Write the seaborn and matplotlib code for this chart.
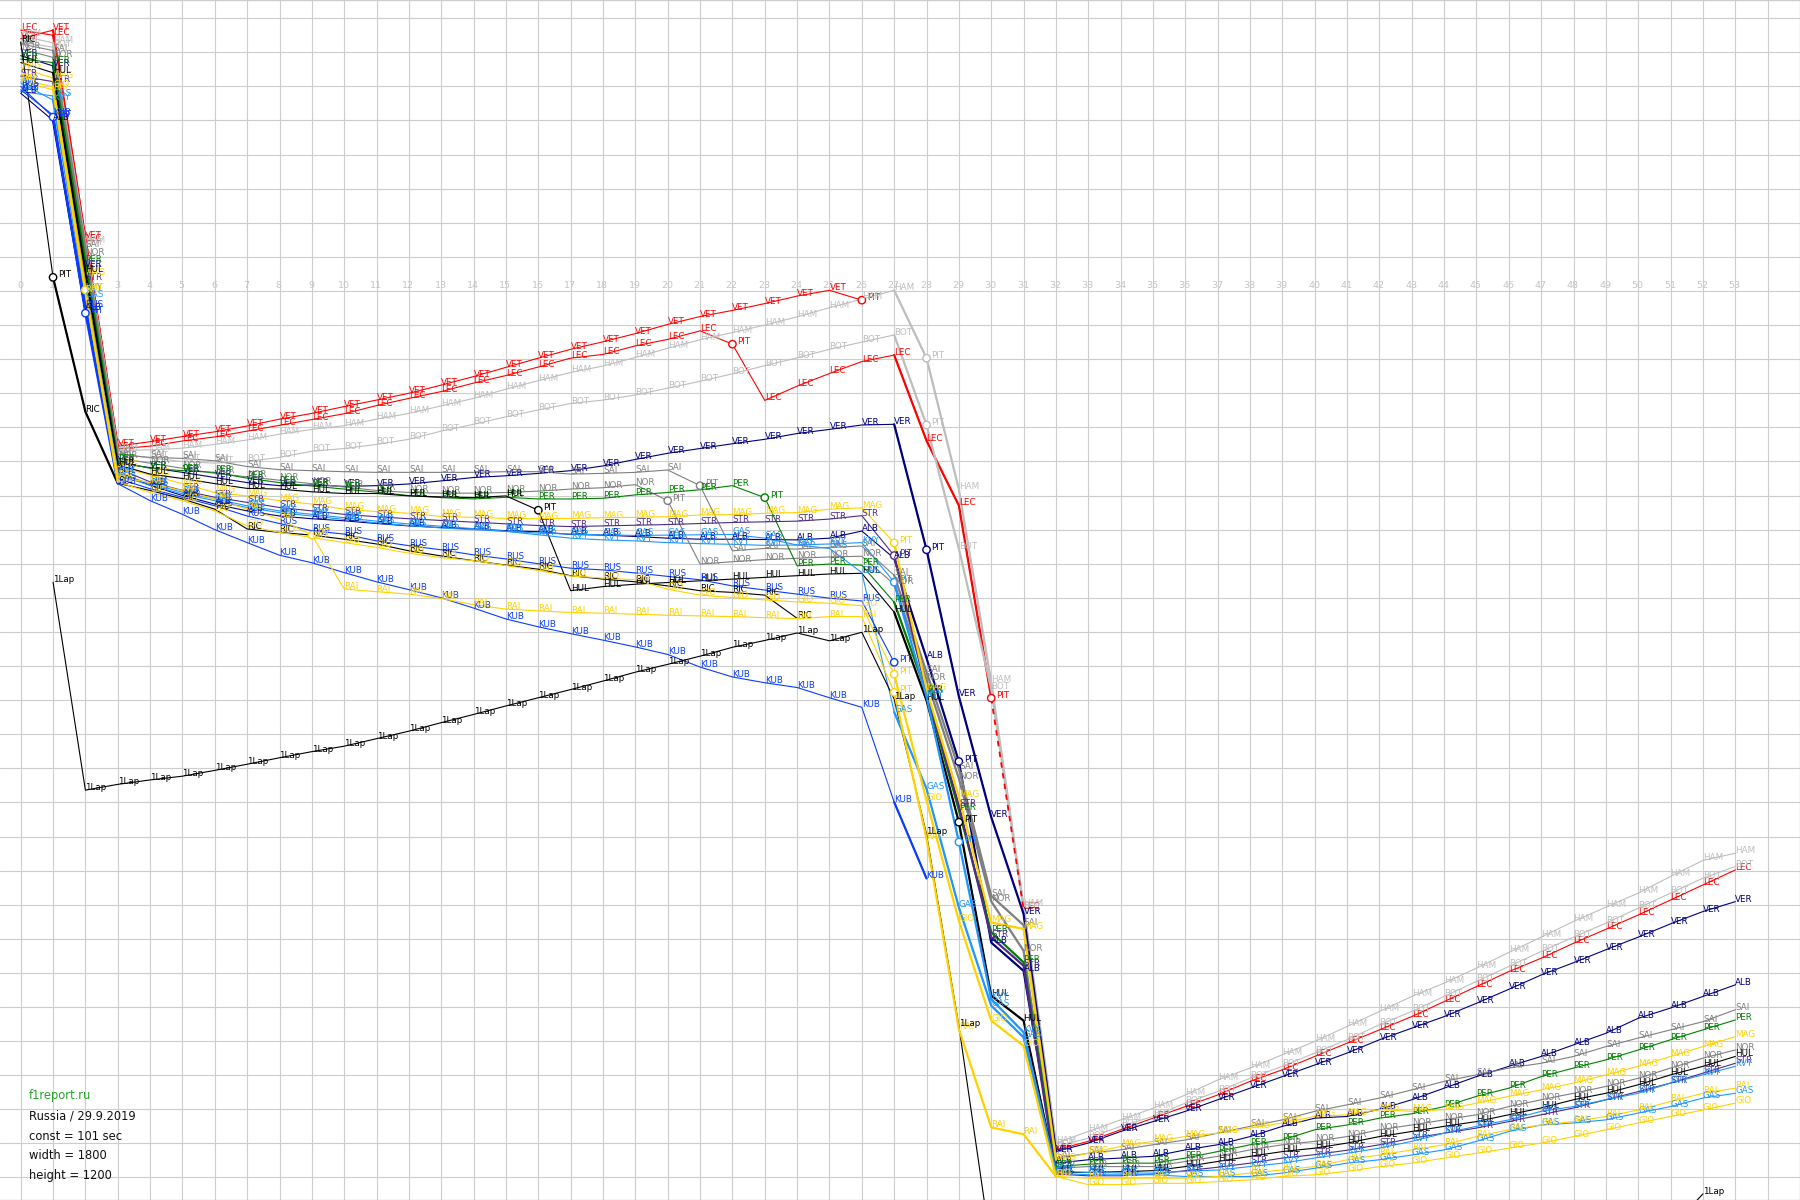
import matplotlib
matplotlib.use("Agg")
import matplotlib.pyplot as plt
import seaborn as sns
import pandas as pd
import numpy as np

# gap to a constant 101 s lap, in seconds (positive = behind), index = lap
VET = [-74.0, -76.5, -15.4, 45.5, 44.2, 42.7, 41.3, 39.6, 37.6, 35.9, 33.9, 32.0, 30.0, 27.6, 25.1, 22.4,
       19.7, 17.1, 14.9, 12.5, 9.8, 7.5, 5.7, 3.7, 1.5, -0.2, 2.7]
LEC = [-76.5, -75.0, -14.8, 46.3, 45.5, 44.0, 42.8, 41.1, 39.4, 37.7, 36.0, 33.6, 31.5, 29.5, 27.0, 24.8,
       22.3, 19.7, 18.6, 16.1, 14.2, 11.7, 15.6, 32.1, 27.9, 24.2, 20.7, 18.8,
       43.9, 62.9, 119.4, 181.3, 251.9,
       249.4, 246.0, 242.6, 239.2, 235.8, 231.8, 228.4, 224.5, 220.6, 216.7, 212.8, 208.4, 204.0, 199.6,
       195.7, 191.3, 187.2, 183.0, 178.6, 174.2, 169.8]
HAM = [-74.8, -72.8, -14.0, 46.8, 46.6, 46.1, 45.0, 43.7, 42.0, 40.6, 39.5, 37.6, 35.9, 33.7, 31.5, 28.8,
       26.3, 23.9, 22.0, 19.5, 16.8, 14.3, 12.2, 10.0, 7.6, 4.9, 2.4, -0.2,
       19.7, 58.2, 114.7, 180.5, 249.9,
       246.5, 243.1, 239.7, 235.8, 231.4, 227.9, 224.0, 220.1, 215.7, 211.3, 206.9, 203.0, 198.6, 194.0,
       189.5, 184.9, 180.7, 176.6, 171.7, 167.0, 164.9]
BOT = [-73.0, -71.5, -13.5, 47.5, 49.0, 50.0, 50.5, 50.0, 48.8, 47.0, 46.2, 45.0, 43.5, 41.1, 39.1, 36.9,
       34.9, 33.0, 32.0, 30.5, 28.5, 26.5, 24.3, 21.9, 19.6, 17.1, 15.0, 12.9,
       39.3, 75.6, 116.7, 181.0, 250.9,
       248.5, 245.0, 242.1, 238.2, 234.8, 230.9, 227.4, 223.5, 219.6, 215.2, 211.3, 206.9, 202.5, 198.1,
       193.7, 189.5, 185.4, 181.0, 176.6, 172.2, 168.8]
VER = [-69.0, -66.0, -7.1, 50.5, 51.8, 53.2, 54.7, 56.2, 57.1, 56.9, 57.3, 57.1, 56.6, 55.7, 54.7, 54.2,
       53.5, 52.7, 51.3, 49.4, 47.6, 46.2, 44.8, 43.5, 41.8, 40.6, 39.3, 39.1,
       75.9, 118.9, 154.3, 182.7, 252.4,
       249.9, 246.5, 243.6, 240.6, 237.2, 233.8, 230.4, 227.0, 223.5, 219.6, 216.2, 212.8, 208.9, 204.8,
       200.6, 197.0, 193.2, 189.5, 185.6, 182.0, 179.1]
ALB = [-58.0, -50.0, 5.6, 53.0, 57.0, 60.0, 62.5, 64.5, 66.0, 66.8, 67.4, 68.2, 68.9, 69.4, 69.8, 70.3,
       70.6, 71.4, 71.6, 72.0, 72.5, 72.8, 72.8, 72.9, 73.0, 72.5, 70.4, 78.4,
       107.7, 138.0, 191.1, 199.4, 255.8,
       254.8, 254.3, 253.8, 251.9, 250.4, 248.0, 245.0, 242.6, 242.1, 240.0, 237.2, 233.8, 230.4, 227.4,
       224.5, 221.1, 217.7, 213.3, 210.3, 206.9, 203.5]
SAI = [-72.5, -70.5, -13.0, 48.0, 48.8, 49.1, 49.8, 51.5, 52.4, 52.7, 53.0, 53.2, 53.2, 53.2, 53.2, 53.0,
       53.0, 53.7, 53.5, 53.2, 52.5, 57.1, 76.2, 75.5, 75.7, 75.2, 74.8, 83.4,
       111.8, 140.1, 177.4, 186.0, 254.3,
       252.9, 251.9, 250.4, 249.0, 247.0, 245.0, 243.1, 240.6, 238.7, 236.7, 234.3, 231.8, 229.9, 227.9,
       226.5, 224.5, 221.6, 219.1, 216.7, 214.3, 210.8]
NOR = [-71.0, -68.5, -10.6, 49.0, 50.5, 52.0, 53.5, 54.5, 55.5, 56.5, 57.5, 58.5, 59.1, 59.3, 59.3, 59.1,
       58.7, 58.1, 57.7, 56.8, 61.5, 80.1, 79.4, 78.8, 78.4, 78.0, 77.8, 86.0,
       114.0, 143.0, 179.0, 193.5, 257.3,
       256.8, 256.8, 256.8, 255.3, 253.8, 251.9, 250.4, 249.4, 248.0, 246.0, 244.6, 243.1, 241.6, 239.2,
       237.2, 235.3, 233.3, 230.9, 227.9, 225.0, 222.6]
PER = [-68.0, -67.0, -8.6, 50.0, 52.0, 52.7, 53.2, 54.9, 56.2, 57.2, 58.1, 59.0, 60.0, 60.6, 61.0, 60.5,
       61.0, 61.0, 60.8, 59.8, 59.1, 58.3, 57.1, 60.6, 80.6, 80.1, 80.4, 91.3,
       118.0, 152.3, 188.1, 196.9, 256.8,
       256.1, 255.8, 255.8, 254.3, 252.4, 250.4, 249.0, 246.0, 244.6, 242.6, 241.3, 239.2, 236.2, 233.8,
       230.4, 227.9, 225.5, 222.6, 219.6, 216.7, 213.8]
STR = [-63.0, -61.4, -3.2, 52.0, 56.0, 58.5, 60.5, 62.0, 63.5, 64.5, 65.5, 66.2, 66.8, 67.3, 67.8, 68.3,
       68.8, 69.1, 68.9, 68.7, 68.5, 68.2, 67.9, 67.7, 67.5, 66.9, 65.9, 77.6,
       117.5, 151.0, 189.6, 197.9, 259.0,
       259.5, 259.5, 259.0, 258.0, 257.0, 255.8, 254.3, 253.3, 252.0, 250.4, 248.5, 247.0, 245.5, 243.6,
       241.6, 239.6, 237.2, 234.8, 232.3, 229.4, 226.5]
MAG = [-65.5, -62.4, -4.7, 51.5, 54.0, 56.5, 59.1, 60.1, 61.5, 62.5, 64.0, 64.7, 65.2, 66.1, 66.4, 66.7,
       66.8, 66.7, 66.5, 66.4, 66.2, 65.7, 65.6, 65.2, 65.0, 64.0, 63.6, 73.9,
       116.9, 148.4, 185.2, 187.1, 254.8,
       252.9, 250.9, 249.4, 248.0, 247.0, 245.5, 244.0, 242.1, 241.6, 240.1, 240.6, 240.1, 238.2, 236.2,
       234.3, 232.3, 229.9, 227.4, 224.5, 221.6, 218.7]
HUL = [-67.0, -64.0, -5.7, 51.0, 53.7, 55.0, 56.5, 57.9, 58.1, 58.9, 59.4, 59.4, 60.1, 60.4, 60.6, 60.1,
       64.3, 87.9, 86.7, 86.0, 85.5, 85.0, 84.5, 84.0, 83.5, 83.0, 82.8, 94.2,
       120.1, 155.8, 206.7, 214.0, 258.5,
       258.5, 258.3, 258.0, 256.8, 255.3, 253.8, 252.4, 251.4, 249.9, 248.0, 246.5, 245.0, 243.6, 241.6,
       239.6, 237.2, 235.3, 232.8, 229.9, 227.4, 224.5]
RIC = [-73.0, -4.0, 35.4, 56.4, 58.5, 61.0, 64.0, 69.8, 70.8, 71.6, 72.8, 74.2, 76.2, 77.7, 79.1, 80.4,
       81.6, 83.5, 84.5, 85.3, 86.5, 87.9, 88.4, 89.2, 96.0]
KVY = [-61.0, -56.0, -0.3, 53.5, 56.5, 59.0, 61.0, 63.0, 64.5, 65.5, 66.5, 67.5, 68.3, 69.0, 69.7, 70.5,
       71.5, 72.5, 73.0, 73.3, 73.8, 74.1, 74.3, 74.6, 74.5, 74.2, 73.8, 85.4,
       119.0, 161.6, 207.7, 217.4, 258.2,
       258.5, 258.7, 258.7, 258.2, 257.8, 256.8, 255.8, 254.3, 252.9, 251.4, 249.4, 247.0, 245.0, 243.1,
       240.6, 239.2, 237.2, 235.3, 232.3, 229.9, 227.4]
GAS = [-58.5, -57.2, 1.7, 54.0, 57.0, 59.5, 61.5, 63.5, 65.0, 66.0, 67.0, 68.0, 68.8, 69.5, 70.0, 70.5,
       71.0, 71.3, 71.5, 71.7, 71.6, 71.5, 71.4, 72.5, 74.5, 75.5, 82.6, 123.5,
       146.0, 180.8, 209.6, 218.9, 258.7,
       259.2, 259.2, 259.2, 259.7, 259.7, 259.7, 258.7, 257.3, 255.8, 254.8, 253.4, 251.9, 249.4, 246.5,
       244.6, 244.0, 243.1, 241.1, 239.2, 236.7, 235.3]
RUS = [-60.0, -51.0, 4.6, 55.0, 58.0, 60.5, 63.0, 66.0, 68.2, 70.3, 71.3, 73.3, 74.7, 75.9, 77.4, 78.6,
       80.0, 81.3, 81.8, 82.7, 83.7, 84.7, 86.5, 87.7, 88.9, 90.1, 90.9, 108.9]
KUB = [-59.0, -51.6, 6.5, 56.5, 61.5, 65.5, 70.0, 73.8, 77.5, 79.7, 82.6, 85.3, 87.6, 90.0, 93.0, 96.2,
       98.5, 100.5, 102.4, 104.4, 106.6, 110.3, 113.2, 114.9, 116.3, 119.3, 122.1, 149.9, 172.3]
GIO = [-62.0, -59.9, -0.3, 56.0, 59.1, 61.5, 64.5, 68.9, 70.8, 72.3, 73.8, 75.2, 76.9, 78.2, 79.1, 80.5,
       82.0, 83.6, 84.2, 84.7, 87.5, 89.2, 89.9, 90.6, 91.2, 91.6, 92.3, 112.4,
       149.4, 184.7, 214.0, 221.4, 259.7,
       262.1, 262.1, 261.7, 261.7, 261.2, 260.7, 259.7, 259.2, 258.2, 256.8, 255.8, 254.3, 252.9, 251.4,
       249.9, 248.0, 246.0, 244.0, 242.1, 240.2, 238.2]
RAI = [-61.5, -59.0, 0.2, 54.5, 56.2, 58.6, 61.0, 64.0, 66.9, 71.6, 87.4, 88.2, 88.9, 90.2, 92.0, 93.3,
       93.8, 94.3, 94.5, 94.8, 95.1, 95.3, 95.5, 95.8, 96.1, 95.5, 95.5, 117.7,
       160.6, 216.5, 245.3, 247.3, 259.7,
       260.2, 260.2, 260.2, 260.2, 259.7, 258.7, 257.8, 256.8, 254.8, 253.4, 251.9, 250.4, 248.0, 246.0,
       244.6, 243.6, 242.1, 240.2, 237.7, 235.3, 233.8]
# car running one lap down, starts at lap 1
LAPPED = [85.4, 146.4, 144.7, 143.4, 142.3, 140.6, 138.8, 136.9, 135.1, 133.5, 131.3, 129.1, 126.6, 124.2,
          121.7, 119.3, 116.9, 114.4, 111.8, 109.5, 107.1, 104.5, 102.5, 100.3, 102.6, 100.1, 119.7,
          159.3, 215.5, 281.0]
LAPPED_END = [275.0, 264.8]

SERIES = {"LEC": LEC, "VET": VET, "HAM": HAM, "BOT": BOT, "VER": VER, "ALB": ALB, "SAI": SAI,
          "NOR": NOR, "PER": PER, "STR": STR, "MAG": MAG, "HUL": HUL, "RIC": RIC, "KVY": KVY,
          "GAS": GAS, "RUS": RUS, "KUB": KUB, "GIO": GIO, "RAI": RAI,
          "1Lap": LAPPED, "1Lap_end": LAPPED_END}
START = {"1Lap": 1, "1Lap_end": 51}

PITS = {"VET": [26], "LEC": [22, 30], "HAM": [28], "BOT": [28], "VER": [28], "ALB": [29],
        "SAI": [21], "NOR": [20], "PER": [23], "STR": [27], "MAG": [27], "HUL": [16, 29],
        "RIC": [1], "KVY": [27, 29], "RUS": [1, 27], "KUB": [2], "GIO": [2, 27], "RAI": [9, 27]}

COLORS = {"VET": "#FF0000", "LEC": "#FF0000", "HAM": "#BEBEBE", "BOT": "#BEBEBE",
          "VER": "#000080", "ALB": "#000080", "SAI": "#7F7F7F", "NOR": "#7F7F7F",
          "PER": "#008000", "STR": "#4F2A8A", "MAG": "#FFD200", "RAI": "#FFD200",
          "GIO": "#FFD200", "HUL": "#000000", "RIC": "#000000", "KVY": "#1E96FF",
          "GAS": "#1E96FF", "RUS": "#0A3CFF", "KUB": "#0A3CFF",
          "1Lap": "#000000", "1Lap_end": "#000000"}

LAP_LABELS = [str(n) for n in range(54)]
INFO = ["f1report.ru", "Russia / 29.9.2019", "const = 101 sec", "width = 1800", "height = 1200"]

# long table
rows = []
for drv, vals in SERIES.items():
    first = START.get(drv, 0)
    for i, g in enumerate(vals):
        rows.append((drv, first + i, g))
df = pd.DataFrame(rows, columns=["driver", "lap", "gap"])
df["unit"] = df["driver"]
df.loc[(df.driver == "LEC") & (df.lap >= 31), "unit"] = "LEC_2"

# safety car / vsc laps drawn heavier
sc = df[~df.driver.str.startswith("1Lap")].copy()
sc["unit"] = None
sc.loc[sc.lap.between(1, 3), "unit"] = sc["driver"] + "_a"
sc.loc[sc.lap.between(27, 32), "unit"] = sc["driver"] + "_b"
sc.loc[(sc.driver == "LEC") & sc.lap.between(31, 32), "unit"] = "LEC_c"
sc = sc.dropna(subset=["unit"])

sns.set_style("white")
plt.rcParams["font.family"] = ["DejaVu Sans"]

fig = plt.figure(figsize=(18, 12), dpi=100)
ax = fig.add_axes([0, 0, 1, 1])

sns.lineplot(data=df, x="lap", y="gap", hue="driver", units="unit", estimator=None, sort=False,
             palette=COLORS, linewidth=0.8, legend=False, ax=ax, zorder=3)
sns.lineplot(data=sc, x="lap", y="gap", hue="driver", units="unit", estimator=None, sort=False,
             palette=COLORS, linewidth=1.6, legend=False, ax=ax, zorder=3)
dash = df[(df.driver == "LEC") & df.lap.between(30, 31)]
sns.lineplot(data=dash, x="lap", y="gap", color=COLORS["LEC"], linewidth=1.3, linestyle=(0, (3, 3)),
             estimator=None, sort=False, legend=False, ax=ax, zorder=3)

# pit markers
pit_rows = df[df.apply(lambda r: r.lap in PITS.get(r.driver, []), axis=1)]
sns.scatterplot(data=pit_rows, x="lap", y="gap", hue="driver", palette=COLORS, s=28,
                linewidth=1.0, legend=False, ax=ax, zorder=4)
coll = ax.collections[-1]
coll.set_edgecolors(coll.get_facecolors())
coll.set_facecolor("white")

# point labels
for r in df.itertuples():
    is_pit = r.lap in PITS.get(r.driver, [])
    text = "PIT" if is_pit else ("1Lap" if r.driver.startswith("1Lap") else r.driver)
    ax.annotate(text, (r.lap, r.gap), xytext=(3.5 if is_pit else 0, 0), textcoords="offset points",
                ha="left", va="baseline", fontsize=6.3, color=COLORS[r.driver],
                annotation_clip=True, zorder=5)

# lap numbers on the zero line
for n, lab in enumerate(LAP_LABELS):
    ax.annotate(lab, (n, 0), xytext=(-0.5, 1), textcoords="offset points", ha="center",
                va="bottom", fontsize=6.8, color="#C4C4C4", zorder=1.5)

ax.set_xlim(-0.64, 55.0)
ax.set_ylim(266.6, -85.34)
ax.set_xticks(np.arange(0, 55))
ax.set_yticks(np.arange(-80, 270, 10))
ax.tick_params(length=0, labelbottom=False, labelleft=False)
ax.grid(True, color="#CDCDCD", linewidth=0.8)
ax.set_axisbelow(True)
ax.set_xlabel("")
ax.set_ylabel("")
for side in ["top", "right", "bottom"]:
    ax.spines[side].set_color("#CDCDCD")
    ax.spines[side].set_linewidth(1.0)
ax.spines["left"].set_visible(False)

ys = [1096, 1116, 1136, 1155.5, 1175.5]
for i, (txt, y) in enumerate(zip(INFO, ys)):
    fig.text(29 / 1800, 1 - y / 1200, txt, fontsize=8.3, va="center", ha="left",
             color="#28A428" if i == 0 else "#111111")

fig.savefig("out.png", dpi=100)
